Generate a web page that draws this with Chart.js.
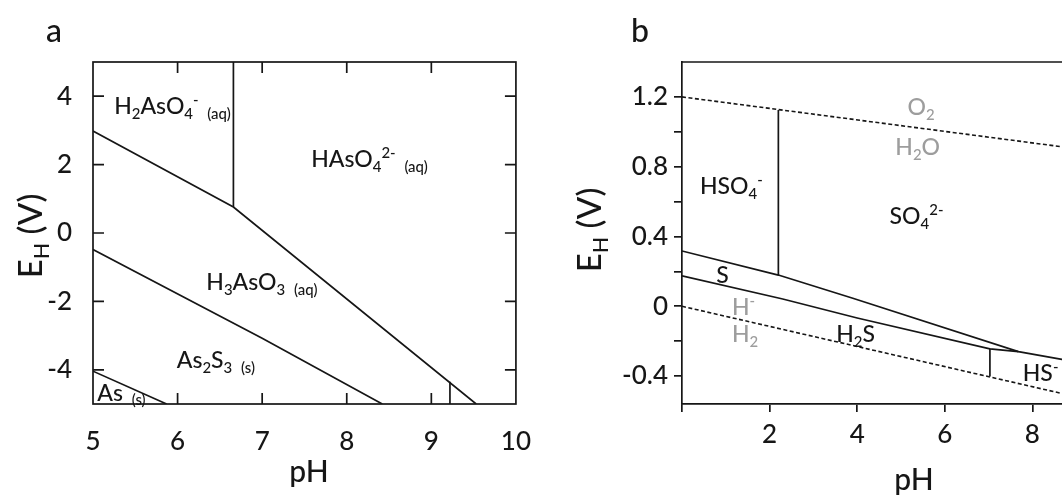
<!DOCTYPE html>
<html>
<head>
<meta charset="utf-8">
<script src="https://cdn.jsdelivr.net/npm/chart.js@4.4.0/dist/chart.umd.min.js"></script>
<style>
  html, body { margin: 0; padding: 0; background: #fff; width: 1062px; height: 497px; overflow: hidden; }
  .panel { position: absolute; top: 0; height: 497px; }
  #wrapA { left: 0; width: 545px; }
  #wrapB { left: 560px; width: 580px; }
</style>
</head>
<body>
<div class="panel" id="wrapA"><canvas id="chartA" width="545" height="497"></canvas></div>
<div class="panel" id="wrapB"><canvas id="chartB" width="580" height="497"></canvas></div>
<script>
// ---- panel a: As–S system, pH 5–10 ----
const phTicksA = [5, 6, 7, 8, 9, 10];
const ehTicksA = [-4, -2, 0, 2, 4];

const upperAsX = [5, 6.66, 9.53];
const upperAsY = [2.98, 0.76, -5];
const verticalAs1X = [6.66, 6.66];
const verticalAs1Y = [5, 0.76];
const middleAsX = [5, 7, 8.42];
const middleAsY = [-0.48, -3.08, -5];
const lowerAsX = [5, 5.87];
const lowerAsY = [-4.04, -5];
const verticalAs2X = [9.22, 9.22];
const verticalAs2Y = [-5, -4.35];

// label parts: n normal, d subscript, u superscript, s state tag
const labelsA = [
  { parts: [['H', 'n'], ['2', 'd'], ['AsO', 'n'], ['4', 'd'], ['-', 'u'], ['(aq)', 's']], x: 5.25, y: 3.48 },
  { parts: [['HAsO', 'n'], ['4', 'd'], ['2-', 'u'], ['(aq)', 's']], x: 7.58, y: 1.93 },
  { parts: [['H', 'n'], ['3', 'd'], ['AsO', 'n'], ['3', 'd'], ['(aq)', 's']], x: 6.34, y: -1.67 },
  { parts: [['As', 'n'], ['2', 'd'], ['S', 'n'], ['3', 'd'], ['(s)', 's']], x: 5.99, y: -3.95 },
  { parts: [['As', 'n'], ['(s)', 's']], x: 5.05, y: -4.9 },
];

// ---- panel b: S system ----
const phTicksB = [0, 2, 4, 6, 8, 10];
const phLabelsB = [2, 4, 6, 8];
const ehTicksB = [-0.4, -0.2, 0, 0.2, 0.4, 0.6, 0.8, 1.0, 1.2];
const ehLabelsB = [-0.4, 0, 0.4, 0.8, 1.2];

const oxygenX = [0, 8.8];
const oxygenY = [1.2, 0.91];
const hydrogenX = [0, 8.8];
const hydrogenY = [0, -0.507];
const sulfurTopX = [0, 2.2, 3.9, 7.68, 8.8];
const sulfurTopY = [0.317, 0.179, 0.046, -0.26, -0.31];
const sulfurBottomX = [0, 2.3, 4, 7.03, 7.68];
const sulfurBottomY = [0.174, 0.042, -0.067, -0.244, -0.26];
const bisulfateX = [2.2, 2.2];
const bisulfateY = [1.125, 0.179];
const sulfideX = [7.03, 7.03];
const sulfideY = [-0.244, -0.403];

const labelsB = [
  { parts: [['O', 'n'], ['2', 'd']], x: 5.15, y: 1.096, muted: true },
  { parts: [['H', 'n'], ['2', 'd'], ['O', 'n']], x: 4.87, y: 0.867, muted: true },
  { parts: [['HSO', 'n'], ['4', 'd'], ['-', 'u']], x: 0.41, y: 0.644 },
  { parts: [['SO', 'n'], ['4', 'd'], ['2-', 'u']], x: 4.74, y: 0.471 },
  { parts: [['S', 'n']], x: 0.78, y: 0.133 },
  { parts: [['H', 'n'], ['-', 'u']], x: 1.14, y: -0.05, muted: true },
  { parts: [['H', 'n'], ['2', 'd']], x: 1.14, y: -0.203, muted: true },
  { parts: [['H', 'n'], ['2', 'd'], ['S', 'n']], x: 3.52, y: -0.203 },
  { parts: [['HS', 'n'], ['-', 'u']], x: 7.78, y: -0.427 },
];

const INK = '#161616';
const MUTED = '#9d9d9d';
const FONT = 'Lato';
const WEIGHT = '500';

Chart.defaults.font.family = FONT;
Chart.defaults.color = INK;

function pairs(xs, ys) {
  return xs.map((x, i) => ({ x, y: ys[i] }));
}

function lineSet(xs, ys, extra) {
  return Object.assign({
    data: pairs(xs, ys),
    showLine: true,
    pointRadius: 0,
    borderColor: INK,
    borderWidth: 1.7,
    fill: false,
    tension: 0,
  }, extra || {});
}

function partFont(k, size) {
  return `${WEIGHT} ${k === 'n' ? size : size * 0.65}px ${FONT}`;
}

// draws text with sub/superscripts, (x, y) = left end of the baseline
function drawRich(ctx, parts, x, y, size, color) {
  let cx = x;
  parts.forEach(([t, k]) => {
    const dy = k === 'd' ? size * 0.22 : k === 'u' ? -size * 0.4 : k === 's' ? size * 0.2 : 0;
    if (k === 's') cx += size * 0.38;
    ctx.font = partFont(k, size);
    ctx.fillStyle = color;
    ctx.fillText(t, cx, y + dy);
    cx += ctx.measureText(t).width;
  });
  return cx - x;
}

function richWidth(ctx, parts, size) {
  let w = 0;
  parts.forEach(([t, k]) => {
    ctx.font = partFont(k, size);
    w += ctx.measureText(t).width + (k === 's' ? size * 0.38 : 0);
  });
  return w;
}

// region labels, axis titles and panel letter
const textLayer = {
  id: 'textLayer',
  afterDatasetsDraw(chart, args, opts) {
    const { ctx, scales: { x, y } } = chart;
    ctx.save();
    ctx.textBaseline = 'alphabetic';
    ctx.textAlign = 'left';
    opts.labels.forEach(l => {
      drawRich(ctx, l.parts, x.getPixelForValue(l.x), y.getPixelForValue(l.y), opts.labelSize, l.muted ? MUTED : INK);
    });

    // panel letter
    ctx.font = `${WEIGHT} 32px ${FONT}`;
    ctx.fillStyle = INK;
    ctx.fillText(opts.letter, opts.letterAt[0], opts.letterAt[1]);

    // pH
    ctx.font = `${WEIGHT} 30px ${FONT}`;
    ctx.textAlign = 'center';
    ctx.fillText('pH', opts.phAt[0], opts.phAt[1]);

    // E_H (V), rotated
    ctx.textAlign = 'left';
    const eh = [['E', 'n'], ['H', 'd'], [' (V)', 'n']];
    const w = richWidth(ctx, eh, 33);
    ctx.translate(opts.ehAt[0], opts.ehAt[1]);
    ctx.rotate(-Math.PI / 2);
    drawRich(ctx, eh, -w / 2, 0, 33, INK);
    ctx.restore();
  }
};

// closed frame with inward ticks (panel a)
const innerFrame = {
  id: 'innerFrame',
  afterDraw(chart) {
    const { ctx, chartArea: a, scales: { x, y } } = chart;
    const len = 11;
    ctx.save();
    ctx.strokeStyle = INK;
    ctx.lineWidth = 1.7;
    ctx.strokeRect(a.left, a.top, a.right - a.left, a.bottom - a.top);
    ctx.beginPath();
    x.ticks.forEach(t => {
      const px = x.getPixelForValue(t.value);
      if (px <= a.left + 1 || px >= a.right - 1) return;
      ctx.moveTo(px, a.bottom); ctx.lineTo(px, a.bottom - len);
      ctx.moveTo(px, a.top); ctx.lineTo(px, a.top + len);
    });
    y.ticks.forEach(t => {
      const py = y.getPixelForValue(t.value);
      ctx.moveTo(a.left, py); ctx.lineTo(a.left + len, py);
      ctx.moveTo(a.right, py); ctx.lineTo(a.right - len, py);
    });
    ctx.stroke();
    ctx.restore();
  }
};

// top border line (panel b)
const topBorder = {
  id: 'topBorder',
  afterDraw(chart) {
    const { ctx, chartArea: a } = chart;
    ctx.save();
    ctx.strokeStyle = INK;
    ctx.lineWidth = 1.7;
    ctx.beginPath();
    ctx.moveTo(a.left, a.top);
    ctx.lineTo(a.right, a.top);
    ctx.stroke();
    ctx.restore();
  }
};

const tickFont = { size: 26, family: FONT, weight: WEIGHT };

new Chart(document.getElementById('chartA'), {
  type: 'scatter',
  data: {
    datasets: [
      lineSet(upperAsX, upperAsY),
      lineSet(verticalAs1X, verticalAs1Y),
      lineSet(middleAsX, middleAsY),
      lineSet(lowerAsX, lowerAsY),
      lineSet(verticalAs2X, verticalAs2Y),
    ]
  },
  options: {
    responsive: false,
    animation: false,
    events: [],
    layout: { padding: { left: 0, right: 17, top: 62, bottom: 0 } },
    plugins: {
      legend: { display: false },
      tooltip: { enabled: false },
      textLayer: {
        labels: labelsA, labelSize: 23,
        letter: 'a', letterAt: [46, 42],
        phAt: [309, 482],
        ehAt: [42, 236],
      }
    },
    scales: {
      x: {
        type: 'linear', min: 5, max: 10,
        afterBuildTicks: s => { s.ticks = phTicksA.map(v => ({ value: v })); },
        afterFit: s => { s.height = 93; },
        grid: { display: false },
        border: { display: false },
        ticks: { font: tickFont, color: INK, padding: 14, maxRotation: 0, callback: v => String(v) }
      },
      y: {
        type: 'linear', min: -5, max: 5,
        afterBuildTicks: s => { s.ticks = ehTicksA.map(v => ({ value: v })); },
        afterFit: s => { s.width = 93; },
        grid: { display: false },
        border: { display: false },
        ticks: { font: tickFont, color: INK, padding: 13, callback: v => String(v) }
      }
    }
  },
  plugins: [innerFrame, textLayer]
});

new Chart(document.getElementById('chartB'), {
  type: 'scatter',
  data: {
    datasets: [
      lineSet(oxygenX, oxygenY, { borderDash: [4, 2.5], borderWidth: 1.6 }),
      lineSet(hydrogenX, hydrogenY, { borderDash: [4, 2.5], borderWidth: 1.6 }),
      lineSet(sulfurTopX, sulfurTopY),
      lineSet(sulfurBottomX, sulfurBottomY),
      lineSet(bisulfateX, bisulfateY),
      lineSet(sulfideX, sulfideY),
    ]
  },
  options: {
    responsive: false,
    animation: false,
    events: [],
    layout: { padding: { left: 0, right: 20, top: 62, bottom: 0 } },
    plugins: {
      legend: { display: false },
      tooltip: { enabled: false },
      textLayer: {
        labels: labelsB, labelSize: 23,
        letter: 'b', letterAt: [71, 42],
        phAt: [354, 490],
        ehAt: [41, 230],
      }
    },
    scales: {
      x: {
        type: 'linear', min: 0, max: 10,
        afterBuildTicks: s => { s.ticks = phTicksB.map(v => ({ value: v })); },
        afterFit: s => { s.height = 93; },
        grid: { drawOnChartArea: false, drawTicks: true, tickLength: 8, color: INK, lineWidth: 1.7 },
        border: { display: true, color: INK, width: 1.7 },
        ticks: { font: tickFont, color: INK, padding: 7, maxRotation: 0,
          callback: v => phLabelsB.includes(v) ? String(v) : '' }
      },
      y: {
        type: 'linear', min: -0.56, max: 1.4,
        afterBuildTicks: s => { s.ticks = ehTicksB.map(v => ({ value: v })); },
        afterFit: s => { s.width = 122; },
        grid: { drawOnChartArea: false, drawTicks: true, tickLength: 8, color: INK, lineWidth: 1.7 },
        border: { display: true, color: INK, width: 1.7 },
        ticks: { font: tickFont, color: INK, padding: 6,
          callback: v => ehLabelsB.includes(v) ? String(v) : '' }
      }
    }
  },
  plugins: [topBorder, textLayer]
});
</script>
</body>
</html>
